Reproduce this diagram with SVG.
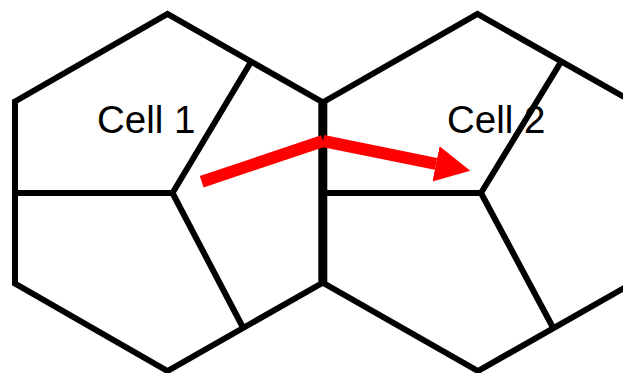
<svg xmlns="http://www.w3.org/2000/svg" width="623" height="373" viewBox="0 0 623 373">
<style>
.cell{fill:none;stroke:#000;stroke-width:6;stroke-linejoin:miter}
.lbl{font-family:"Liberation Sans",Arial,sans-serif;font-size:38.5px;fill:#000}
.flow{fill:none;stroke:#ff0000;stroke-width:12;stroke-linecap:butt}
</style>
<defs>
<marker id="ah" markerUnits="userSpaceOnUse" markerWidth="40" markerHeight="40" viewBox="0 -20 40 40" refX="0" refY="0" orient="auto">
<path d="M0,-18 L35,0 L0,18 z" fill="#ff0000"/>
</marker>
</defs>
<g id="cell1">
<polygon class="cell" points="15,101.5 167.5,14 321.3,101.5 321.3,283.5 167.5,371 15,283.5"/>
<polyline class="cell" points="250,63.5 172.5,193 243.5,328.5"/>
<line class="cell" x1="15" y1="193" x2="172.5" y2="193"/>
<text class="lbl" x="97" y="133">Cell 1</text>
</g>
<g id="cell2">
<polygon class="cell" points="324.3,101.5 477.5,14 632,101.5 632,283.5 478,371 324.3,283.5"/>
<polyline class="cell" points="560,63.5 481,193 553.5,328.5"/>
<line class="cell" x1="324.3" y1="193" x2="481" y2="193"/>
<text class="lbl" x="447" y="133">Cell 2</text>
</g>
<g id="connectors">
<line class="flow" x1="201.7" y1="181.7" x2="323" y2="141"/>
<line class="flow" x1="323" y1="141" x2="436" y2="163.9" marker-end="url(#ah)"/>
</g>
</svg>
